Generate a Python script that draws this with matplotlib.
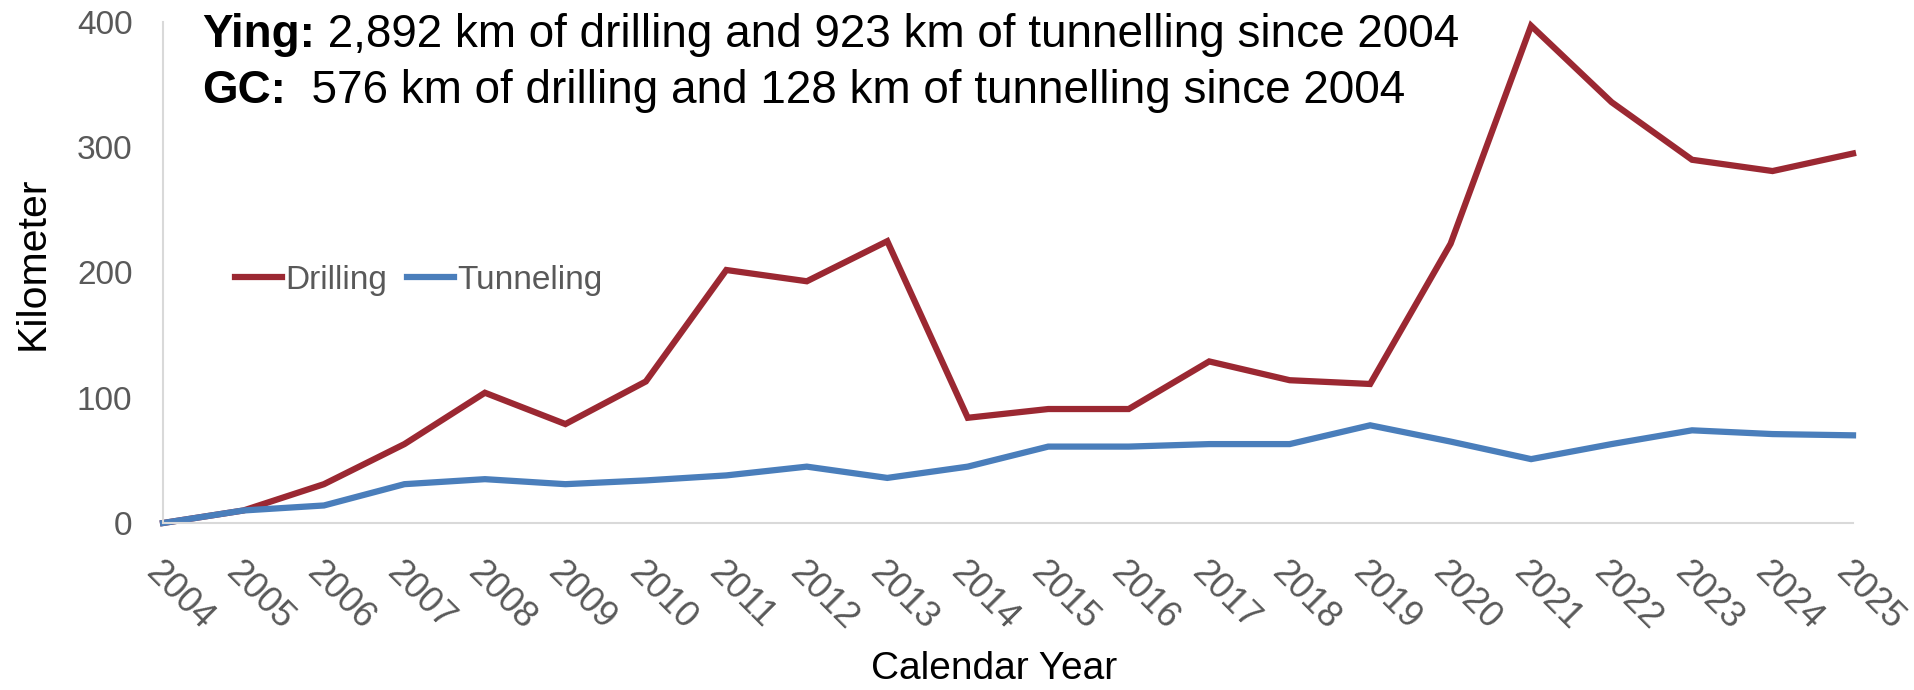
import matplotlib
matplotlib.use("Agg")
import matplotlib.pyplot as plt

years = [str(y) for y in range(2004, 2026)]
drilling = [0, 10, 31, 63, 104, 79, 113, 202, 193, 225, 84, 91, 91, 129, 114, 111,
            223, 397, 336, 290, 281, 295]
tunneling = [0, 10, 14, 31, 35, 31, 34, 38, 45, 36, 45, 61, 61, 63, 63, 78,
             65, 51, 63, 74, 71, 70]
yticks = [0, 100, 200, 300, 400]
title_lines = [("Ying:", " 2,892 km of drilling and 923 km of tunnelling since 2004"),
               ("GC:", "  576 km of drilling and 128 km of tunnelling since 2004")]

W, H = 1915, 690
fig = plt.figure(figsize=(W / 100, H / 100), dpi=100)
ax = fig.add_axes([163 / W, 1 - 523 / H, (1853 - 163) / W, (523 - 22) / H])

red = "#9B2832"
blue = "#4A7EBB"
gray = "#595959"
font = "Liberation Sans"

x = list(range(len(years)))
ax.plot(x, drilling, color=red, lw=4.5, label="Drilling", solid_joinstyle="miter")
ax.plot(x, tunneling, color=blue, lw=4.5, label="Tunneling", solid_joinstyle="miter")

ax.set_xlim(0, len(years) - 1)
ax.set_ylim(0, 400)
ax.set_yticks(yticks)
ax.set_yticklabels([str(v) for v in yticks], fontsize=24, color=gray, family=font)
ax.set_xticks(x)
ax.set_xticklabels(years, fontsize=26, color=gray, family=font)
for lab in ax.get_xticklabels():
    lab.set_rotation(-45)
    lab.set_ha("left")
    lab.set_va("top")
    lab.set_rotation_mode("anchor")
ax.tick_params(axis="x", length=0, pad=23)
ax.tick_params(axis="y", length=0, pad=22)

for s in ["top", "right"]:
    ax.spines[s].set_visible(False)
for s in ["left", "bottom"]:
    ax.spines[s].set_color("#D9D9D9")
    ax.spines[s].set_linewidth(1.5)
for ln in ax.lines:
    ln.set_clip_on(False)

ax.set_ylabel("Kilometer", fontsize=29.5, family=font, color="black")
ax.yaxis.set_label_coords(-0.077, 0.519)
ax.yaxis.label.set_va("center")
ax.set_xlabel("Calendar Year", fontsize=28, family=font, color="black")
ax.xaxis.set_label_coords(0.492, -0.291)
ax.xaxis.label.set_va("center")

leg = ax.legend(loc="center left", bbox_to_anchor=(235 / W, 1 - 280 / H),
                bbox_transform=fig.transFigure, ncol=2, frameon=False,
                prop={"family": font, "size": 24}, handlelength=1.4,
                handletextpad=0.1, columnspacing=0.6, borderpad=0,
                borderaxespad=0)
for t in leg.get_texts():
    t.set_color(gray)

# title lines
baselines = [47, 103]
for (bold, rest), b in zip(title_lines, baselines):
    t1 = fig.text(202 / W, 1 - b / H, bold, fontsize=33, fontweight="bold",
                  family=font, va="baseline", ha="left")
    fig.canvas.draw()
    bb = t1.get_window_extent()
    fig.text(bb.x1 / W, 1 - b / H, rest, fontsize=33, family=font,
             va="baseline", ha="left")

fig.savefig("out.png", dpi=100)
